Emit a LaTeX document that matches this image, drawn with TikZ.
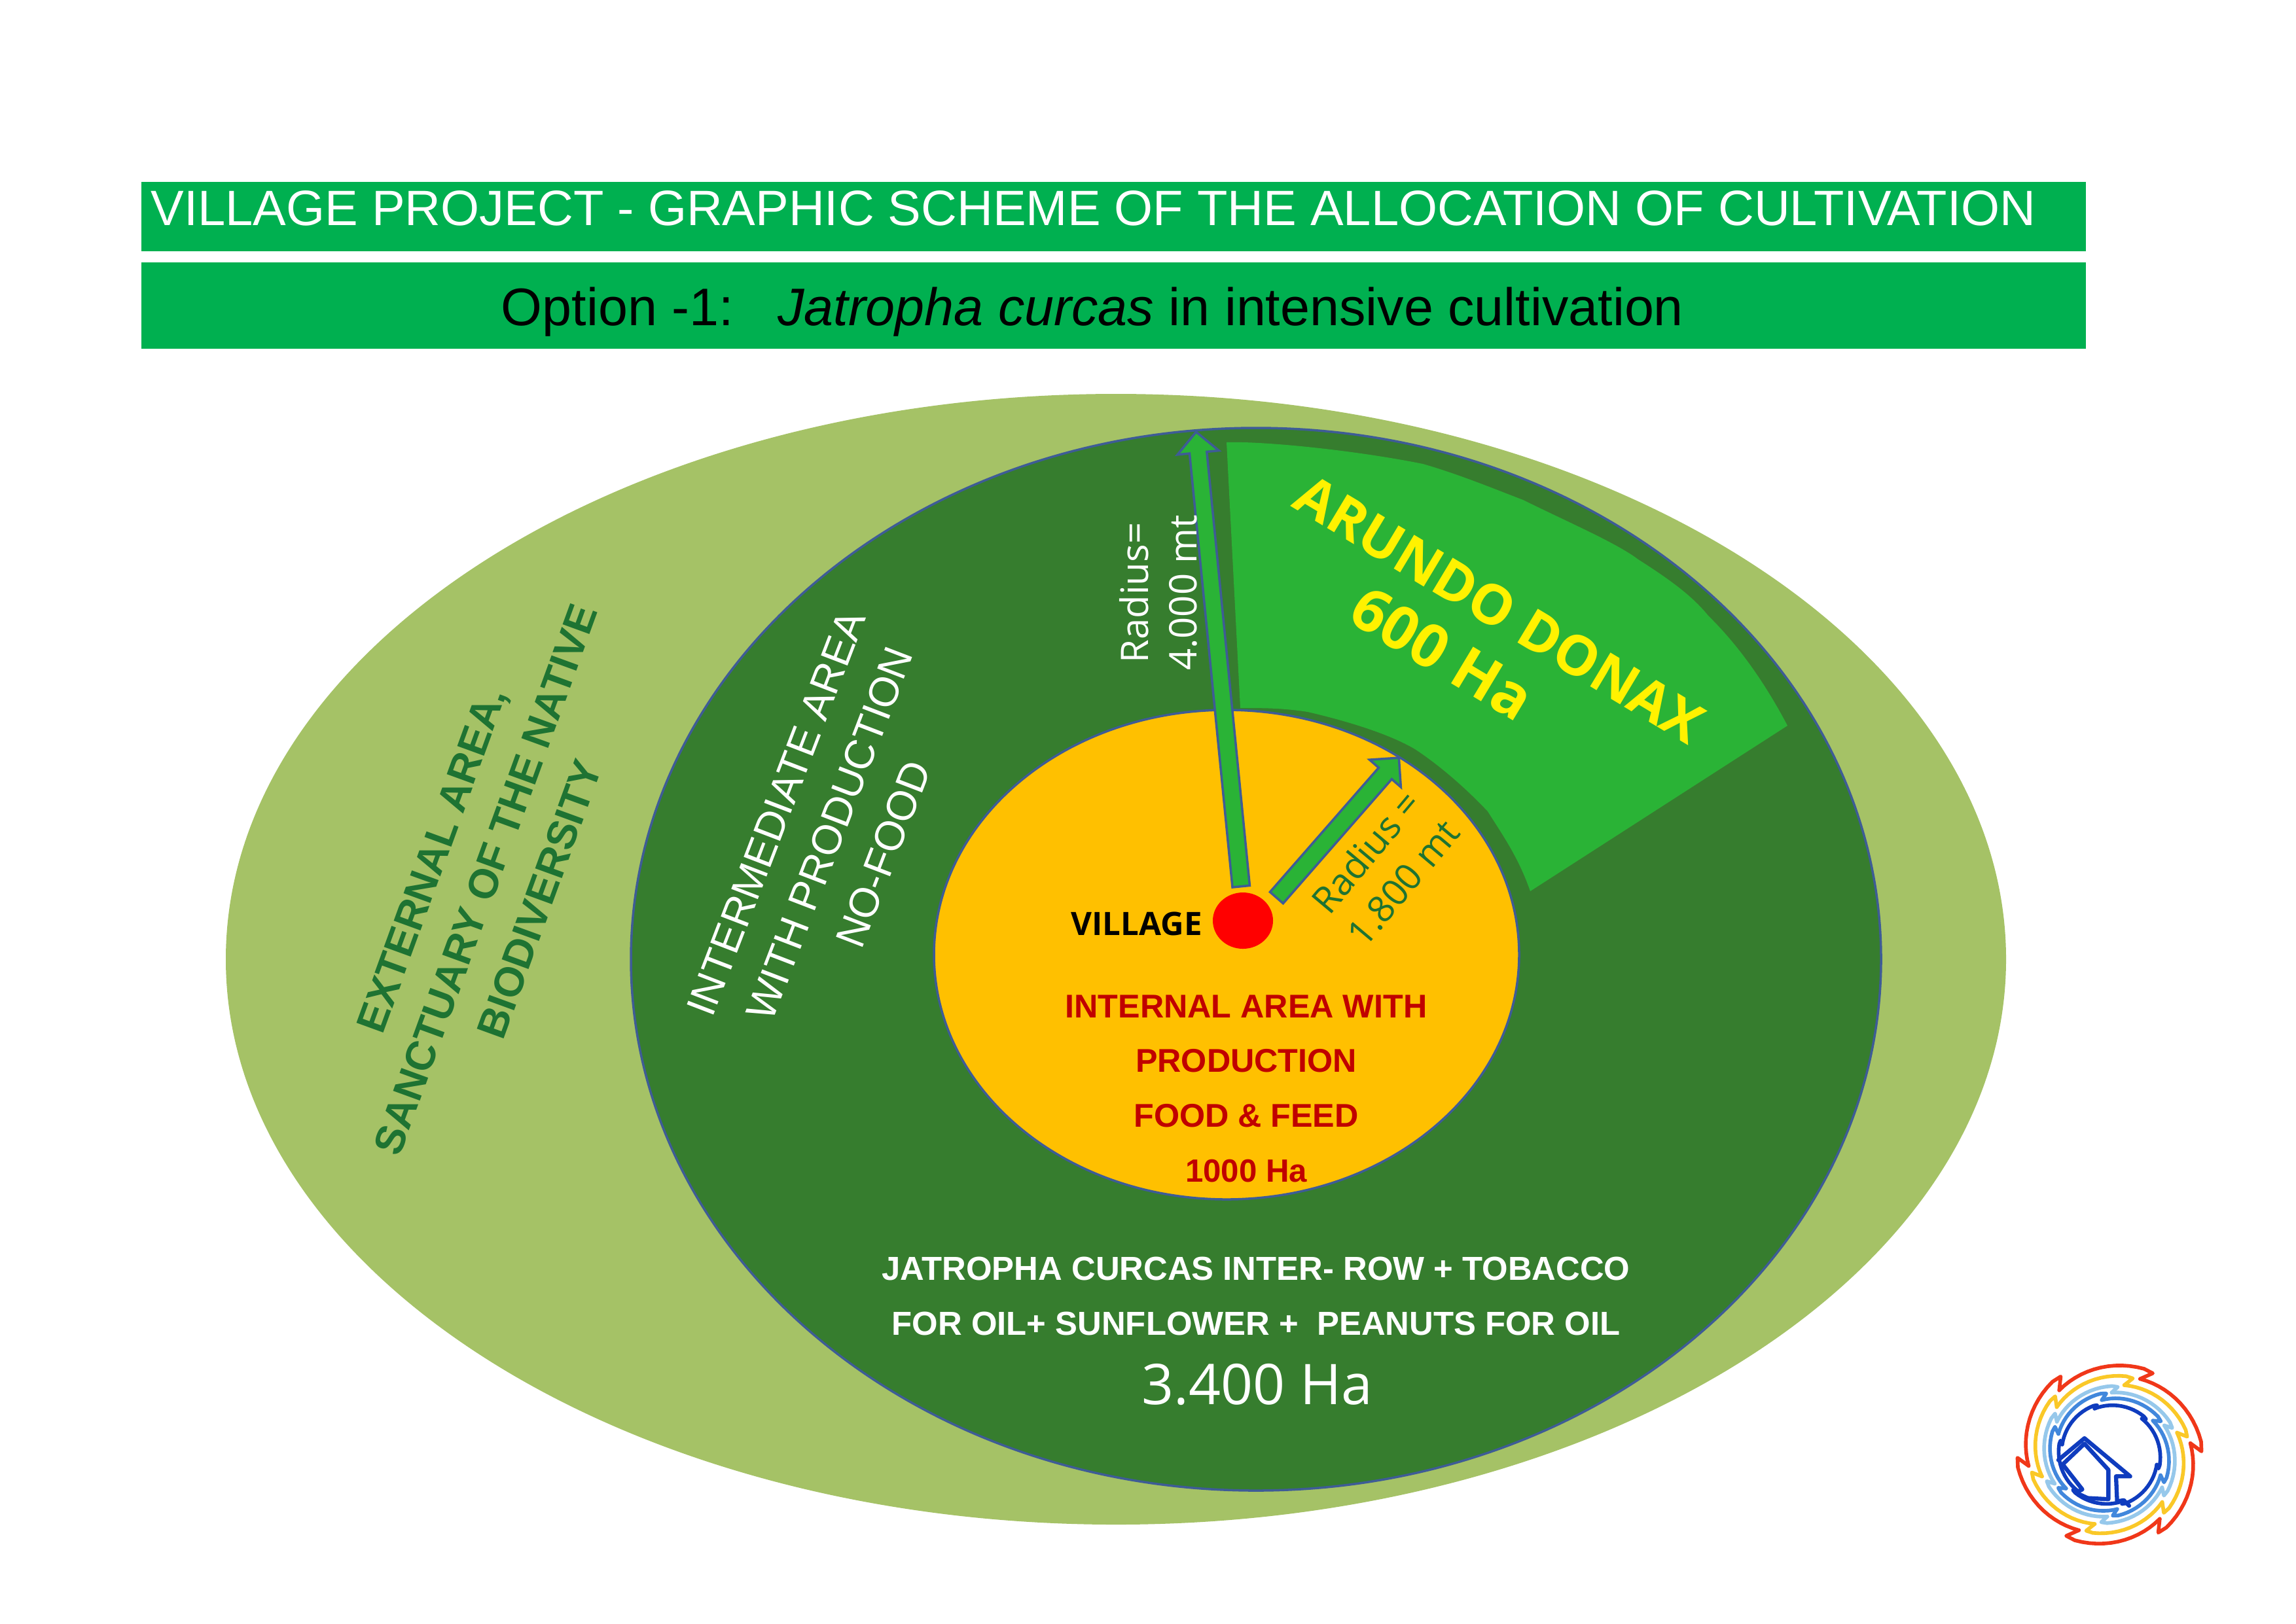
\documentclass[tikz,border=0pt]{standalone}
\usepackage{fontspec}
\setmainfont{Liberation Sans}
\newfontfamily\handfont{Open Sans}
\usetikzlibrary{positioning,arrows.meta,calc,shapes.geometric,shapes.arrows}
\definecolor{bannergreen}{RGB}{0,176,80}
\definecolor{outerarea}{RGB}{165,194,102}
\definecolor{middlearea}{RGB}{54,125,46}
\definecolor{sectorgreen}{RGB}{42,179,54}
\definecolor{innerarea}{RGB}{255,192,0}
\definecolor{rimblue}{RGB}{62,92,150}
\definecolor{darkgreentext}{RGB}{30,115,50}
\definecolor{redtext}{RGB}{192,0,0}
\definecolor{logored}{RGB}{240,55,25}
\definecolor{logoyellow}{RGB}{250,200,40}
\definecolor{logopale}{RGB}{150,200,235}
\definecolor{logomid}{RGB}{65,135,220}
\definecolor{logodark}{RGB}{15,60,190}
\newcommand{\logoring}[5]{%
  \foreach \k in {0,...,5}
    \draw[logoline,draw=#1] plot[domain=0:60,samples=14,variable=\t]
      ({#4-60*\k+60-\t}:{#2+(#3-#2)*\t/60}) -- ({#4-60*\k+#5}:{#3-2}) -- ({#4-60*\k}:{#2});
}
\begin{document}
\begin{tikzpicture}[x=1cm,y=1cm,
  banner/.style={fill=bannergreen,draw=none,inner sep=0pt,minimum width=29.71cm,anchor=north west},
  area/.style={ellipse,inner sep=0pt},
  rimmed/.style={area,draw=rimblue,line width=1pt},
  radiusarrow/.style={single arrow,draw=rimblue,line width=1pt,fill=sectorgreen,inner xsep=0pt,inner ysep=0.115cm,
    single arrow head extend=0.185cm,single arrow head indent=0cm},
  logoline/.style={line width=1.6pt,line cap=round,line join=round},
  houseline/.style={logoline,draw=logodark,line width=1.8pt},
  plainlabel/.style={align=center,inner sep=0pt}]
\useasboundingbox (0,0) rectangle (35.08,-24.81);
\fill[white] (0,0) rectangle (35.08,-24.81);

\node[banner,minimum height=1.06cm] (bannertop) at (2.15,-2.77) {};
\node[banner,minimum height=1.32cm] (bannerlow) at (2.15,-4.00) {};
\node[plainlabel,white,font=\fontsize{21.6}{26}\selectfont,anchor=west] (titletext) at (2.30,-3.18)
  {VILLAGE PROJECT - GRAPHIC SCHEME OF THE ALLOCATION OF CULTIVATION};
\node[plainlabel,font=\fontsize{23}{26}\selectfont] (optiontext) at (16.69,-4.77)
  {Option -1:\ \ \ \textit{Jatropha curcas} in intensive cultivation};

\node[area,fill=outerarea,minimum width=27.20cm,minimum height=17.28cm] (outer) at (17.05,-14.66) {};
\node[rimmed,fill=middlearea,minimum width=19.10cm,minimum height=16.24cm] (middle) at (19.19,-14.66) {};
\fill[sectorgreen] (18.74,-6.76) .. controls (19.30,-6.74) and (20.70,-6.88) .. (21.74,-7.09)
  .. controls (22.30,-7.25) and (22.90,-7.50) .. (23.27,-7.64)
  .. controls (24.00,-8.00) and (24.70,-8.30) .. (25.03,-8.55)
  .. controls (25.50,-8.85) and (25.85,-9.10) .. (26.10,-9.41)
  .. controls (26.60,-9.90) and (27.00,-10.50) .. (27.31,-11.09)
  -- (23.38,-13.62) .. controls (23.20,-13.10) and (22.95,-12.75) .. (22.73,-12.40)
  .. controls (22.40,-12.05) and (22.00,-11.70) .. (21.62,-11.45)
  .. controls (21.20,-11.20) and (20.50,-11.00) .. (19.98,-10.88)
  .. controls (19.60,-10.82) and (19.30,-10.82) .. (18.95,-10.82) -- cycle;
\node[rimmed,fill=innerarea,minimum width=8.94cm,minimum height=7.48cm] (inner) at (18.74,-14.59) {};

\node[radiusarrow,minimum height=6.98cm,rotate=95.65] (longarrow) at (18.625,-10.14) {};
\node[radiusarrow,minimum height=2.84cm,rotate=48.85] (shortarrow) at (20.395,-12.70) {};
\node[ellipse,fill=red,inner sep=0pt,minimum width=0.92cm,minimum height=0.86cm] (villagedot) at (18.99,-14.07) {};
\node[plainlabel,left=0.15cm of villagedot,yshift=-0.05cm,font=\handfont\bfseries\fontsize{14}{16}\selectfont] (villagetext) {VILLAGE};

\node[plainlabel,rotate=70,darkgreentext,font=\bfseries\fontsize{18}{25}\selectfont] (externaltext) at (7.42,-13.44)
  {EXTERNAL AREA,\\SANCTUARY OF THE NATIVE\\BIODIVERSITY};
\node[plainlabel,rotate=69,white,font=\fontsize{18}{25}\selectfont] (intermediatetext) at (12.68,-12.74)
  {INTERMEDIATE AREA\\WITH PRODUCTION\\NO-FOOD};
\node[plainlabel,rotate=90,white,font=\handfont\fontsize{16.5}{21}\selectfont] (radiuslong) at (17.70,-9.06)
  {Radius=\\4.000 mt};
\node[plainlabel,rotate=50,darkgreentext,font=\handfont\fontsize{16}{21}\selectfont] (radiusshort) at (21.15,-13.25)
  {Radius =\\1.800 mt};
\node[plainlabel,rotate=-31,yellow,font=\handfont\bfseries\fontsize{24}{30}\selectfont] (arundotext) at (22.64,-9.76)
  {ARUNDO DONAX\\{\fontsize{26}{30}\selectfont 600 Ha}\hspace*{0.8cm}};
\node[plainlabel,redtext,font=\bfseries\fontsize{14.3}{23.8}\selectfont] (internaltext) at (19.04,-16.635)
  {INTERNAL AREA WITH\\PRODUCTION\\FOOD \& FEED\\{\fontsize{14}{23.8}\selectfont 1000 Ha}};
\node[plainlabel,white,font=\bfseries\fontsize{14.46}{23.8}\selectfont] (jatrophatext) at (19.19,-19.81)
  {JATROPHA CURCAS INTER- ROW + TOBACCO\\FOR OIL+ SUNFLOWER +\ \ PEANUTS FOR OIL};
\node[plainlabel,white,font=\handfont\fontsize{24.4}{28}\selectfont] (areatext) at (19.21,-21.16) {3.400 Ha};

\begin{scope}[shift={(32.23,-22.23)},x=0.0033333cm,y=0.0033333cm]
  \logoring{logored}{375}{425}{68}{-6}
  \logoring{logoyellow}{326}{368}{78}{-5}
  \logoring{logopale}{285}{315}{88}{-5}
  \logoring{logomid}{253}{283}{98}{-5}
  \logoring{logodark}{222}{236}{108}{-4}
  \draw[houseline] (-235,-25) -- (-115,75) -- (95,-100) -- (30,-100) -- (35,-215) -- (65,-210) -- (90,-235);
  \draw[houseline] (-215,-45) -- (-115,50) -- (-5,-70) -- (-5,-205) -- (-100,-200) -- (-155,-175) -- (-125,-160) -- cycle;
\end{scope}
\end{tikzpicture}
\end{document}
